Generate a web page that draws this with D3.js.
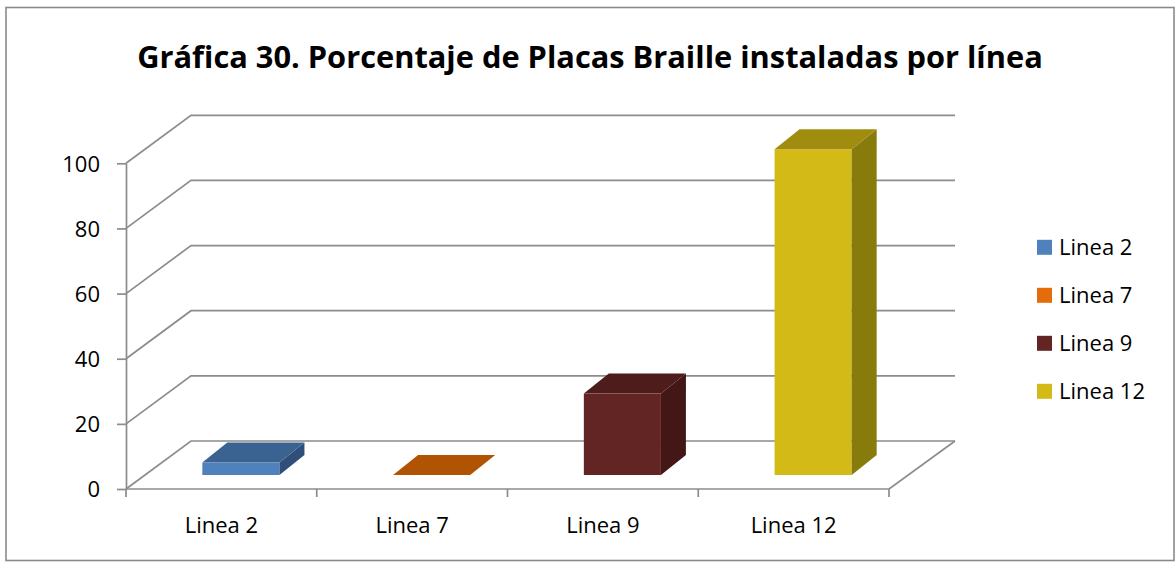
<!DOCTYPE html>
<html>
<head>
<meta charset="utf-8">
<script src="https://cdn.jsdelivr.net/npm/d3@7"></script>
<style>
  body { margin: 0; background: #fff; }
  svg { display: block; }
  text { font-family: "Open Sans", "Liberation Sans", sans-serif; fill: #000; }
</style>
</head>
<body>
<div id="chart"></div>
<script>
'use strict';

// data
const categories = ['Linea 2', 'Linea 7', 'Linea 9', 'Linea 12'];
const values = [3.8, 0, 25, 100];
const yTicks = [0, 20, 40, 60, 80, 100];
const title = 'Gráfica 30. Porcentaje de Placas Braille instaladas por línea';

// colours: front face, top face, side face
const front = ['#4F81BD', '#E46C0A', '#632523', '#D3BA16'];
const topC = ['#3A6391', '#B05404', '#4E1C1B', '#A08D10'];
const side = ['#2F4F7A', '#8F4403', '#431716', '#877B0C'];

const W = 1175, H = 565;
const x0 = 126, x1 = 889, yBase = 489, yTop = 163.3;
const dx = 65, dy = -48;          // depth of the floor / walls
const fx = 19.5, fy = -14;        // bar front offset
const bx = 25, by = -20;          // bar depth
const wallRight = 955;

const svg = d3.select('#chart').append('svg').attr('width', W).attr('height', H);

svg.append('rect').attr('x', 6).attr('y', 7.5).attr('width', 1168).attr('height', 553)
  .attr('fill', '#fff').attr('stroke', '#8a8a8a').attr('stroke-width', 1.6);

const x = d3.scaleBand().domain(categories).range([x0, x1]).padding(0);
const y = d3.scaleLinear().domain([0, 100]).range([yBase, yTop]);

// walls and gridlines
const grid = svg.append('g').attr('fill', 'none').attr('stroke', '#8c8c8c').attr('stroke-width', 1.7);
grid.selectAll('path.g').data(yTicks).enter().append('path')
  .attr('d', function(t) { return 'M' + x0 + ',' + y(t) + 'L' + (x0 + dx) + ',' + (y(t) + dy) + 'L' + wallRight + ',' + (y(t) + dy); });
grid.append('path').attr('d', 'M' + x1 + ',' + yBase + 'L' + wallRight + ',' + (yBase + dy));

// y axis
const yAxis = svg.append('g').attr('transform', 'translate(' + x0 + ',0)')
  .call(d3.axisLeft(y).tickValues(yTicks).tickSize(9).tickSizeOuter(0).tickPadding(17));
yAxis.selectAll('path, line').attr('stroke', '#8c8c8c').attr('stroke-width', 1.7);
yAxis.selectAll('text').attr('dy', null).attr('y', 7.8)
  .style('font-size', '22px').style('font-family', '"Open Sans", sans-serif').attr('fill', '#000');

// x axis line and ticks at category boundaries
svg.append('line').attr('x1', x0).attr('x2', x1).attr('y1', yBase).attr('y2', yBase)
  .attr('stroke', '#8c8c8c').attr('stroke-width', 1.7);
svg.selectAll('line.xt').data(categories.concat(['end'])).enter().append('line')
  .attr('x1', function(d, i) { return x0 + i * x.step(); })
  .attr('x2', function(d, i) { return x0 + i * x.step(); })
  .attr('y1', yBase).attr('y2', yBase + 8)
  .attr('stroke', '#8c8c8c').attr('stroke-width', 1.7);
svg.selectAll('text.xl').data(categories).enter().append('text')
  .attr('x', function(d) { return x(d) + x.bandwidth() / 2; })
  .attr('y', 533.3).attr('text-anchor', 'middle')
  .style('font-size', '22px').text(function(d) { return d; });

// bars
const bw = x.bandwidth() * 0.404;
const bars = svg.selectAll('g.bar').data(values).enter().append('g');
bars.each(function(v, i) {
  const g = d3.select(this);
  const l = x(categories[i]) + x.bandwidth() / 2 - bw / 2 + fx;
  const r = l + bw;
  const b = y(0) + fy;
  const t = y(v) + fy;
  if (v > 0) {
    g.append('rect').attr('x', l).attr('y', t).attr('width', bw).attr('height', b - t).attr('fill', front[i]);
    g.append('path').attr('fill', side[i])
      .attr('d', 'M' + r + ',' + t + 'L' + (r + bx) + ',' + (t + by) + 'L' + (r + bx) + ',' + (b + by) + 'L' + r + ',' + b + 'Z');
  }
  g.append('path').attr('fill', topC[i])
    .attr('d', 'M' + l + ',' + t + 'L' + r + ',' + t + 'L' + (r + bx) + ',' + (t + by) + 'L' + (l + bx) + ',' + (t + by) + 'Z');
});

// legend
const leg = svg.selectAll('g.leg').data(categories).enter().append('g')
  .attr('transform', function(d, i) { return 'translate(1037,' + (247.3 + i * 48) + ')'; });
leg.append('rect').attr('x', 0).attr('y', -7.5).attr('width', 15).attr('height', 15)
  .attr('fill', function(d, i) { return front[i]; });
leg.append('text').attr('x', 22).attr('y', 8)
  .style('font-size', '22px').text(function(d) { return d; });

// title, sized to the reference width
const tt = svg.append('text').attr('x', 590).attr('y', 67.7).attr('text-anchor', 'middle')
  .style('font-size', '28px').style('font-weight', 'bold').text(title);
const tw = tt.node().getComputedTextLength();
tt.style('font-size', (28 * 906 / tw) + 'px');
</script>
</body>
</html>
